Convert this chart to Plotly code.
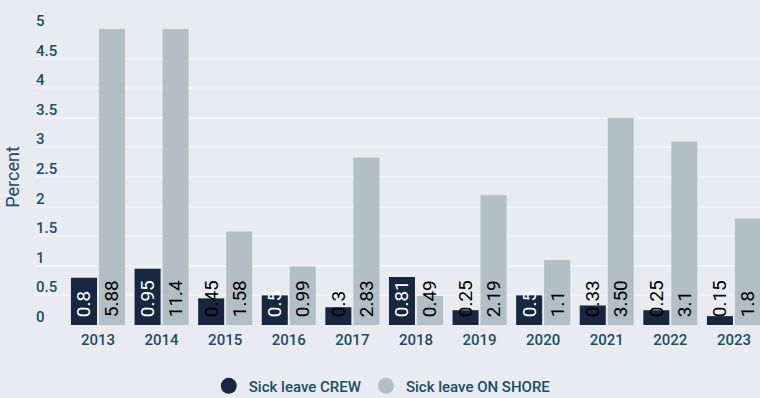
import plotly.graph_objects as go

years = ["2013", "2014", "2015", "2016", "2017", "2018", "2019", "2020", "2021", "2022", "2023"]
crew = [0.8, 0.95, 0.45, 0.5, 0.3, 0.81, 0.25, 0.5, 0.33, 0.25, 0.15]
crew_labels = ["0.8", "0.95", "0.45", "0.5", "0.3", "0.81", "0.25", "0.5", "0.33", "0.25", "0.15"]
onshore = [5.88, 11.4, 1.58, 0.99, 2.83, 0.49, 2.19, 1.1, 3.50, 3.1, 1.8]
onshore_labels = ["5.88", "11.4", "1.58", "0.99", "2.83", "0.49", "2.19", "1.1", "3.50", "3.1", "1.8"]
y_ticks = [0, 0.5, 1, 1.5, 2, 2.5, 3, 3.5, 4, 4.5, 5]
y_tick_text = ["0", "0.5", "1", "1.5", "2", "2.5", "3", "3.5", "4", "4.5", "5"]

NAVY = "#15283f"
GREY = "#b2bfc5"
INK = "#1b4d6b"
BG = "#e8ecf1"
FONT = "Roboto"
NARROW = "Liberation Sans Narrow, Roboto"

# white label when it fits inside the dark bar, otherwise black
crew_text_colors = ["white" if v >= 0.5 else "black" for v in crew]

# small lead-in so labels sit a few pixels above the bar base
LABEL_TEMPLATE = "\u00a0%{text}"

fig = go.Figure()
fig.add_trace(go.Bar(
    x=years, y=crew, text=crew_labels, name="Sick leave CREW",
    texttemplate=LABEL_TEMPLATE,
    marker=dict(color=NAVY, line=dict(width=0)),
    textposition="inside", insidetextanchor="start", textangle=-90,
    constraintext="none",
    textfont=dict(family=NARROW, size=19, color=crew_text_colors),
    showlegend=False, hoverinfo="x+y",
))
fig.add_trace(go.Bar(
    x=years, y=onshore, text=onshore_labels, name="Sick leave ON SHORE",
    texttemplate=LABEL_TEMPLATE,
    marker=dict(color=GREY, line=dict(width=0)),
    textposition="inside", insidetextanchor="start", textangle=-90,
    constraintext="none",
    textfont=dict(family=NARROW, size=19, color="black"),
    showlegend=False, hoverinfo="x+y",
))

# round legend markers
for name, color in (("Sick leave CREW", NAVY), ("Sick leave ON SHORE", GREY)):
    fig.add_trace(go.Scatter(
        x=[None], y=[None], mode="markers", name=name,
        marker=dict(symbol="circle", size=18, color=color),
        showlegend=True, hoverinfo="skip",
    ))

# left-aligned y tick labels sitting just above their gridlines
for val, txt in zip(y_ticks, y_tick_text):
    fig.add_annotation(
        x=0, xref="paper", xanchor="left", xshift=0,
        y=val, yref="y", yanchor="middle", yshift=8,
        text=txt, showarrow=False,
        font=dict(family=FONT, size=15, color=INK, weight=500),
    )

fig.update_layout(
    width=760, height=398,
    margin=dict(l=34, r=0, t=29, b=73, autoexpand=False),
    paper_bgcolor=BG, plot_bgcolor=BG,
    barmode="group", bargap=0.12, bargroupgap=0.07,
    font=dict(family=FONT, color=INK, size=15),
    legend=dict(
        orientation="h", xref="container", x=0.503, xanchor="center",
        yref="container", y=0.03, yanchor="middle",
        font=dict(family=FONT, size=15, color=INK, weight=500),
        itemsizing="trace", traceorder="normal", itemwidth=30,
        bgcolor="rgba(0,0,0,0)",
    ),
    xaxis=dict(
        type="category", range=[-1.006, 10.41],
        showgrid=False, zeroline=False, showline=False, ticks="",
        ticklabelstandoff=4,
        tickfont=dict(family=FONT, size=15, color=INK, weight=500),
        fixedrange=True,
    ),
    yaxis=dict(
        range=[0, 5], tickvals=y_ticks,
        showgrid=True, gridcolor="#f0f3f6", gridwidth=1.5,
        zeroline=False, showline=False, ticks="", showticklabels=False,
        title=dict(text="Percent", standoff=8,
                   font=dict(family=NARROW, size=18, color=INK)),
        fixedrange=True,
    ),
)

fig.write_html("out.html")
